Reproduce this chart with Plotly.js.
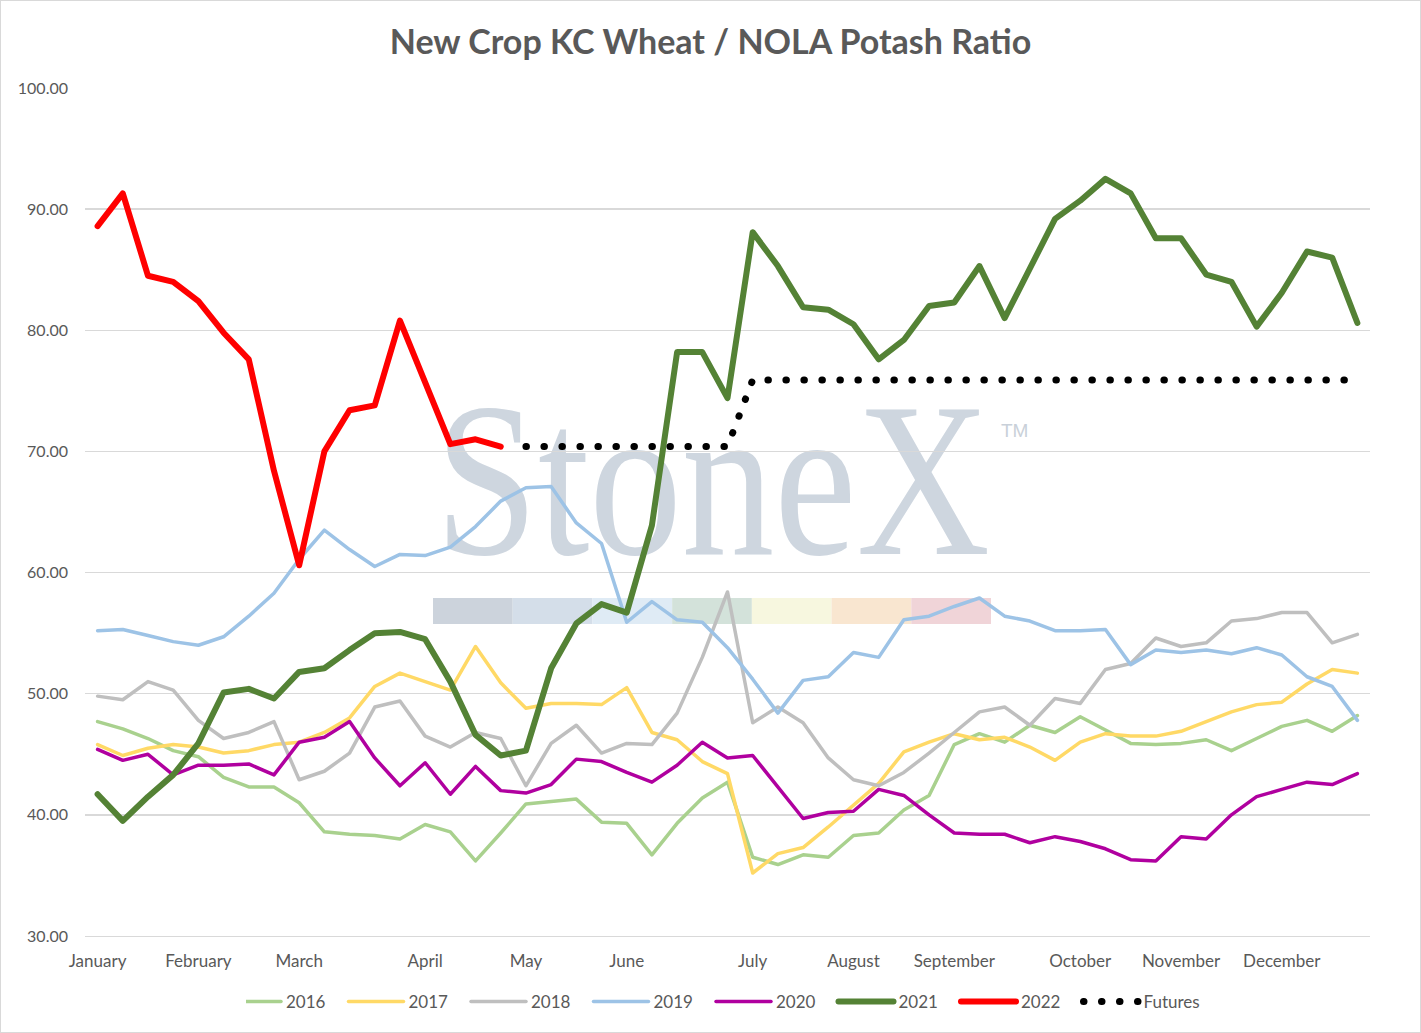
<!DOCTYPE html>
<html>
<head>
<meta charset="utf-8">
<script src="https://cdn.plot.ly/plotly-3.0.1.min.js"></script>
<style>
	body { margin: 0; background: #fff; }
	#wrap { position: relative; width: 1421px; height: 1033px; }
	#frame { position: absolute; left: 0; top: 0; width: 1419px; height: 1031px; border: 1px solid #d9d9d9; pointer-events: none; }
</style>
</head>
<body>
<div id="wrap">
	<div id="plotDiv"></div>
	<div id="frame"></div>
</div>
<script>
// weekly points, Jan -> Dec (51 weeks)
const months = ['January','February','March','April','May','June','July','August','September','October','November','December']
const monthWeek = [0, 4, 8, 13, 17, 21, 26, 30, 34, 39, 43, 47]

const y2016 = [47.7, 47.1, 46.3, 45.3, 44.8, 43.1, 42.3, 42.3, 41.0, 38.6, 38.4, 38.3, 38.0, 39.2, 38.6, 36.2, 38.5, 40.9, 41.1, 41.3, 39.4, 39.3, 36.7, 39.3, 41.4, 42.7, 36.5, 35.9, 36.7, 36.5, 38.3, 38.5, 40.4, 41.6, 45.8, 46.7, 46.0, 47.4, 46.8, 48.1, 47.0, 45.9, 45.8, 45.9, 46.2, 45.3, 46.3, 47.3, 47.8, 46.9, 48.2]
const y2017 = [45.8, 44.9, 45.5, 45.8, 45.6, 45.1, 45.3, 45.8, 46.0, 46.8, 48.0, 50.6, 51.7, 51.0, 50.3, 53.9, 50.9, 48.8, 49.2, 49.2, 49.1, 50.5, 46.8, 46.2, 44.4, 43.4, 35.2, 36.8, 37.3, 39.0, 40.8, 42.6, 45.2, 46.0, 46.7, 46.2, 46.4, 45.6, 44.5, 46.0, 46.7, 46.5, 46.5, 46.9, 47.7, 48.5, 49.1, 49.3, 50.8, 52.0, 51.7]
const y2018 = [49.8, 49.5, 51.0, 50.3, 47.8, 46.3, 46.8, 47.7, 42.9, 43.6, 45.1, 48.9, 49.4, 46.5, 45.6, 46.8, 46.3, 42.4, 45.9, 47.4, 45.1, 45.9, 45.8, 48.4, 53.0, 58.4, 47.6, 48.9, 47.6, 44.7, 42.9, 42.4, 43.5, 45.1, 46.8, 48.5, 48.9, 47.4, 49.6, 49.2, 52.0, 52.5, 54.6, 53.9, 54.2, 56.0, 56.2, 56.7, 56.7, 54.2, 54.9]
const y2019 = [55.2, 55.3, 54.8, 54.3, 54.0, 54.7, 56.4, 58.3, 61.1, 63.5, 61.9, 60.5, 61.5, 61.4, 62.1, 63.8, 65.9, 67.0, 67.1, 64.1, 62.4, 55.9, 57.6, 56.1, 55.9, 53.8, 51.2, 48.4, 51.1, 51.4, 53.4, 53.0, 56.1, 56.4, 57.2, 57.9, 56.4, 56.0, 55.2, 55.2, 55.3, 52.4, 53.6, 53.4, 53.6, 53.3, 53.8, 53.2, 51.4, 50.6, 47.8]
const y2020 = [45.4, 44.5, 45.0, 43.3, 44.1, 44.1, 44.2, 43.3, 46.0, 46.4, 47.7, 44.7, 42.4, 44.3, 41.7, 44.0, 42.0, 41.8, 42.5, 44.6, 44.4, 43.5, 42.7, 44.1, 46.0, 44.7, 44.9, 42.3, 39.7, 40.2, 40.3, 42.1, 41.6, 40.0, 38.5, 38.4, 38.4, 37.7, 38.2, 37.8, 37.2, 36.3, 36.2, 38.2, 38.0, 40.0, 41.5, 42.1, 42.7, 42.5, 43.4]
const y2021 = [41.7, 39.5, 41.5, 43.3, 45.9, 50.1, 50.4, 49.6, 51.8, 52.1, 53.6, 55.0, 55.1, 54.5, 51.0, 46.6, 44.9, 45.3, 52.1, 55.8, 57.4, 56.7, 63.9, 78.2, 78.2, 74.4, 88.1, 85.3, 81.9, 81.7, 80.5, 77.6, 79.2, 82.0, 82.3, 85.3, 81.0, 85.0, 89.2, 90.7, 92.5, 91.3, 87.6, 87.6, 84.6, 84.0, 80.3, 83.1, 86.5, 86.0, 80.6]
const y2022 = [88.6, 91.3, 84.5, 84.0, 82.4, 79.8, 77.6, 68.4, 60.6, 70.0, 73.4, 73.8, 80.8, 75.7, 70.6, 71.0, 70.4]
const futures = [null, null, null, null, null, null, null, null, null, null, null, null, null, null, null, null, null,
	70.4, 70.4, 70.4, 70.4, 70.4, 70.4, 70.4, 70.4, 70.4,
	75.9, 75.9, 75.9, 75.9, 75.9, 75.9, 75.9, 75.9, 75.9, 75.9, 75.9, 75.9, 75.9, 75.9, 75.9, 75.9, 75.9, 75.9, 75.9, 75.9, 75.9, 75.9, 75.9, 75.9, 75.9]

const weeks = y2016.map((v, i) => i)

const series = [
	{name: '2016', y: y2016, color: '#A9D18E', width: 3.5},
	{name: '2017', y: y2017, color: '#FFD966', width: 3.5},
	{name: '2018', y: y2018, color: '#BFBFBF', width: 3.5},
	{name: '2019', y: y2019, color: '#9DC3E6', width: 3.5},
	{name: '2020', y: y2020, color: '#B0009F', width: 3.5},
	{name: '2021', y: y2021, color: '#548235', width: 6},
	{name: '2022', y: y2022, color: '#FF0000', width: 6},
]

const data = series.map(s => ({
	name: s.name,
	x: weeks.slice(0, s.y.length),
	y: s.y,
	type: 'scatter',
	mode: 'lines',
	line: {color: s.color, width: s.width},
	hoverinfo: 'skip'
}))
data.push({
	name: 'Futures',
	x: weeks,
	y: futures,
	type: 'scatter',
	mode: 'lines',
	line: {color: '#000', width: 7, dash: '0.5px,17.5px'},
	hoverinfo: 'skip'
})

// plot box in px, used to place the watermark
const L = 85, R = 1370, T = 88, B = 936
const px = x => (x - L) / (R - L)
const py = y => (B - y) / (B - T)

const barColors = ['#CCD3DC', '#D4DEE9', '#DFEBF5', '#D3E2DA', '#F7F7DF', '#F9E6D0', '#F0D4D8']
const barX0 = 433, barX1 = 991, segW = (barX1 - barX0) / barColors.length
const shapes = barColors.map((c, i) => ({
	type: 'rect', xref: 'paper', yref: 'paper', layer: 'below',
	x0: px(barX0 + i * segW), x1: px(barX0 + (i + 1) * segW),
	y0: py(624), y1: py(598),
	fillcolor: c, line: {width: 0}
}))

const font = 'Lato, "Open Sans", sans-serif'

const layout = {
	width: 1421,
	height: 1033,
	margin: {l: L, r: 1421 - R, t: T, b: 1033 - B, autoexpand: false},
	paper_bgcolor: '#fff',
	plot_bgcolor: 'rgba(0,0,0,0)',
	font: {family: font, color: '#595959', size: 16},
	title: {
		text: 'New Crop KC Wheat / NOLA Potash Ratio',
		font: {family: font, size: 34, weight: 'bold', color: '#595959'},
		x: 0.5, xref: 'container', xanchor: 'center',
		y: 1 - 42 / 1033, yref: 'container', yanchor: 'middle'
	},
	xaxis: {
		range: [-0.5, 50.5],
		tickmode: 'array',
		tickvals: monthWeek,
		ticktext: months,
		tickangle: 0,
		ticks: '',
		showgrid: false,
		zeroline: false,
		showline: true,
		linecolor: '#D9D9D9',
		linewidth: 1.3,
		ticklabelstandoff: 9,
		tickfont: {family: font, size: 17, color: '#595959'},
		fixedrange: true
	},
	yaxis: {
		range: [30, 100],
		dtick: 10,
		tick0: 30,
		tickformat: '.2f',
		ticks: '',
		gridcolor: '#D9D9D9',
		gridwidth: 1.3,
		zeroline: false,
		showline: false,
		ticklabelstandoff: 16,
		tickfont: {family: font, size: 16, color: '#595959'},
		fixedrange: true
	},
	showlegend: true,
	legend: {
		orientation: 'h',
		x: px(246), xanchor: 'left',
		y: py(1002), yanchor: 'middle',
		entrywidth: 77.5,
		entrywidthmode: 'pixels',
		font: {family: font, size: 17, color: '#595959'},
		bgcolor: 'rgba(0,0,0,0)'
	},
	shapes: shapes,
	annotations: [
		{
			text: 'StoneX', showarrow: false,
			xref: 'paper', yref: 'paper', x: px(712), y: py(479),
			xanchor: 'center', yanchor: 'middle',
			font: {family: '"Liberation Serif", "DejaVu Serif", serif', size: 185, color: '#CED6DF'}
		},
		{
			text: 'TM', showarrow: false,
			xref: 'paper', yref: 'paper', x: px(1014), y: py(430),
			xanchor: 'center', yanchor: 'middle',
			font: {family: '"Liberation Sans", sans-serif', size: 19, color: '#C9D0D9'}
		}
	]
}

const config = {displayModeBar: false, staticPlot: true}

// excel-like finishing: watermark under the lines, round dots, longer legend swatches
const finish = gd => {
	const below = gd.querySelector('svg.main-svg .layer-below')
	gd.querySelectorAll('.annotation').forEach(a => below.appendChild(a))
	const wm = below.querySelector('.annotation[data-index="0"] text')
	if (wm) {
		// the logo letters are taller than a plain serif of that width
		wm.style.transformBox = 'fill-box'
		wm.style.transformOrigin = 'center'
		wm.style.transform = 'scaleY(1.19)'
	}
	gd.querySelectorAll('path.js-line').forEach(p => {
		p.style.strokeLinecap = 'round'
		p.style.strokeLinejoin = 'round'
	})
	gd.querySelectorAll('.legend path.js-line').forEach(p => p.setAttribute('d', 'M-20,0h55'))
}

Plotly.newPlot('plotDiv', data, layout, config).then(finish)
</script>
</body>
</html>
